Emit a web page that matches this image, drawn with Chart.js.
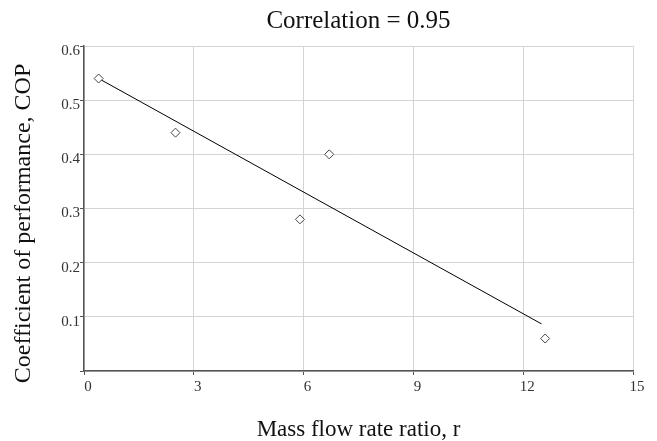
<!DOCTYPE html>
<html>
<head>
<meta charset="utf-8">
<script src="https://cdn.jsdelivr.net/npm/chart.js@4/dist/chart.umd.min.js"></script>
<style>
  html, body { margin: 0; padding: 0; background: #fff; }
  #wrap { width: 657px; height: 441px; position: relative; }
</style>
</head>
<body>
<div id="wrap"><canvas id="c" width="657" height="441"></canvas></div>
<script>
// ---- data ----
const titleText = 'Correlation = 0.95';
const xAxisTitle = 'Mass flow rate ratio, r';
const yAxisTitle = 'Coefficient of performance, COP';
const massFlowRatio = [0.4, 2.5, 5.9, 6.7, 12.6];
const copValues = [0.54, 0.44, 0.28, 0.40, 0.06];
const fitLineX = [0.4, 12.5];
const fitLineY = [0.54, 0.087];
const xTickValues = [0, 3, 6, 9, 12, 15];
const yTickValues = [0, 0.1, 0.2, 0.3, 0.4, 0.5, 0.6];

const serif = '"Liberation Serif", "Times New Roman", Times, serif';

const scatterPoints = massFlowRatio.map((x, i) => ({ x: x, y: copValues[i] }));
const fitPoints = fitLineX.map((x, i) => ({ x: x, y: fitLineY[i] }));

new Chart(document.getElementById('c'), {
  type: 'scatter',
  data: {
    datasets: [
      {
        label: 'COP',
        data: scatterPoints,
        pointStyle: 'rectRot',
        pointRadius: 4.5,
        pointBackgroundColor: '#ffffff',
        pointBorderColor: '#444444',
        pointBorderWidth: 1,
        showLine: false,
        order: 1
      },
      {
        label: 'Fit',
        data: fitPoints,
        showLine: true,
        borderColor: '#000000',
        borderWidth: 1,
        pointRadius: 0,
        fill: false,
        order: 2
      }
    ]
  },
  options: {
    responsive: false,
    animation: false,
    layout: { padding: { left: 0, right: 24, top: 0, bottom: 0 } },
    plugins: {
      legend: { display: false },
      tooltip: { enabled: false },
      title: {
        display: true,
        text: titleText,
        fullSize: false,
        color: '#111',
        font: { family: serif, size: 25, weight: 'normal', lineHeight: 1.2 },
        padding: { top: 6, bottom: 10 }
      }
    },
    scales: {
      x: {
        type: 'linear',
        min: 0,
        max: 15,
        afterBuildTicks: (scale) => { scale.ticks = xTickValues.map(v => ({ value: v })); },
        afterFit: (scale) => { scale.height = 70; },
        ticks: {
          color: '#333',
          font: { family: serif, size: 15 },
          padding: 3,
          labelOffset: 4,
          maxRotation: 0,
          callback: (v) => String(v)
        },
        grid: { color: '#d4d4d4', tickColor: '#555', tickLength: 4, lineWidth: 1 },
        border: { color: '#555', width: 1.5 },
        title: {
          display: true,
          text: xAxisTitle,
          color: '#111',
          font: { family: serif, size: 23, lineHeight: 1.0 },
          padding: { top: 0, bottom: 0 }
        }
      },
      y: {
        type: 'linear',
        min: 0,
        max: 0.6,
        afterBuildTicks: (scale) => { scale.ticks = yTickValues.map(v => ({ value: v })); },
        afterFit: (scale) => { scale.width = 84; },
        ticks: {
          color: '#333',
          font: { family: serif, size: 15 },
          padding: 0,
          labelOffset: 5,
          callback: (v) => (v === 0 ? '' : v.toFixed(1))
        },
        grid: { color: '#d4d4d4', tickColor: '#555', tickLength: 4, lineWidth: 1 },
        border: { color: '#555', width: 1.5 },
        title: {
          display: true,
          text: yAxisTitle + '     ',
          color: '#111',
          font: { family: serif, size: 24, lineHeight: 1.0 },
          padding: { top: 12, bottom: 0 }
        }
      }
    }
  }
});
</script>
</body>
</html>
